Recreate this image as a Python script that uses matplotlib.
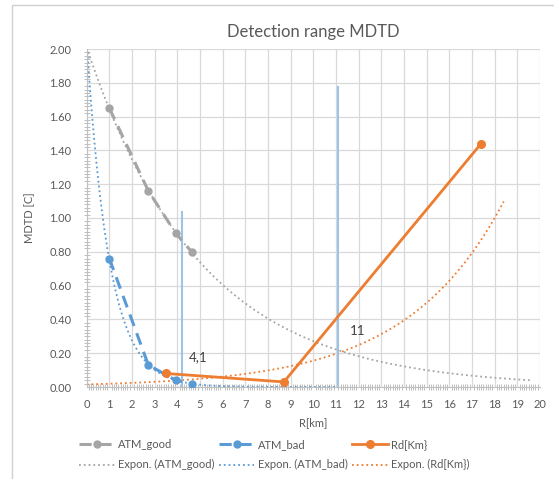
import numpy as np
import matplotlib
matplotlib.use("Agg")
import matplotlib.pyplot as plt
from matplotlib.patches import Rectangle
from matplotlib.ticker import MultipleLocator

plt.rcParams['font.family'] = ['Lato', 'DejaVu Sans']

# ---- data ----
atm_x = [1.0, 2.72, 3.93, 4.63]
atm_good = [1.65, 1.16, 0.91, 0.80]
atm_bad = [0.76, 0.13, 0.04, 0.02]
rd_x = [3.5, 8.7, 17.4]
rd_y = [0.08, 0.03, 1.44]
marker_x = [4.2, 11.1]
marker_top = [1.04, 1.78]
marker_text = ["4,1", "11"]
trend_range_good = (0.0, 19.6)
trend_range_bad = (0.0, 11.0)
trend_range_rd = (0.0, 18.4)

GREY = '#A5A5A5'
BLUE = '#5B9BD5'
ORANGE = '#ED7D31'
TXT = '#595959'

fig = plt.figure(figsize=(5.54, 4.79), dpi=100)
# chart frame
fig.patches.append(Rectangle((12/554, -0.1), 1.2, 1 - 5/479 + 0.1, transform=fig.transFigure,
                             fill=False, edgecolor='#D0D0D0', lw=1.0))
ax = fig.add_axes([86.7/554, 1 - 387/479, (540 - 86.7)/554, (387 - 49)/479])


def expfit(x, y, rng):
    b, a = np.polyfit(x, np.log(y), 1)
    xs = np.linspace(rng[0], rng[1], 200)
    return xs, np.exp(a) * np.exp(b * xs)


# trendlines
xs, ys = expfit(atm_x, atm_good, trend_range_good)
ax.plot(xs, ys, ':', color=GREY, lw=1.3, label='Expon. (ATM_good)', zorder=2)
xs, ys = expfit(atm_x, atm_bad, trend_range_bad)
ax.plot(xs, ys, ':', color=BLUE, lw=1.3, label='Expon. (ATM_bad)', zorder=2)
xs, ys = expfit(rd_x, rd_y, trend_range_rd)
ax.plot(xs, ys, ':', color=ORANGE, lw=1.3, label='Expon. (Rd[Km})', zorder=2)

# series
ax.plot(atm_x, atm_good, '--', color=GREY, lw=2.2, marker='o', ms=5, dashes=(4, 2.5),
        label='ATM_good', zorder=3)
ax.plot(atm_x, atm_bad, '--', color=BLUE, lw=2.2, marker='o', ms=5, dashes=(4, 2.5),
        label='ATM_bad', zorder=3)
ax.plot(rd_x, rd_y, '-', color=ORANGE, lw=2.0, marker='o', ms=5.5, label='Rd[Km}', zorder=4)

# vertical markers
for mx, mt in zip(marker_x, marker_top):
    ax.vlines(mx, 0, mt, color='#9DC3E6', lw=1.5, zorder=2)
ax.text(4.5, 0.178, marker_text[0], fontsize=9.5, color='#404040', va='center', ha='left')
ax.text(11.6, 0.333, marker_text[1], fontsize=9.5, color='#404040', va='center', ha='left')

ax.set_xlim(0, 20)
ax.set_ylim(0, 2.0)
ax.xaxis.set_major_locator(MultipleLocator(1))
ax.xaxis.set_minor_locator(MultipleLocator(0.1))
ax.yaxis.set_minor_locator(MultipleLocator(0.02))
ax.set_yticks(np.arange(0, 2.01, 0.2))
ax.set_yticklabels([f"{v:.2f}" for v in np.arange(0, 2.01, 0.2)])
ax.grid(True, which='major', color='#D9D9D9', lw=0.9)
ax.set_axisbelow(True)
for s in ['top', 'right']:
    ax.spines[s].set_visible(False)
ax.spines['left'].set_color('#BFBFBF')
ax.spines['bottom'].set_color('#BFBFBF')
ax.tick_params(which='major', length=0, labelsize=8, labelcolor=TXT)
ax.tick_params(axis='x', which='major', pad=9)
ax.tick_params(axis='y', which='major', pad=11)
ax.tick_params(which='minor', length=5, direction='inout', color='#BFBFBF', width=0.7)

ax.set_title('Detection range MDTD', fontsize=12, color=TXT, pad=9)
ax.set_xlabel('R[km]', fontsize=8, color=TXT, labelpad=5)
ax.set_ylabel('MDTD [C]', fontsize=8, color=TXT, labelpad=10)

h, l = ax.get_legend_handles_labels()
order = [3, 0, 4, 1, 5, 2]
leg = fig.legend([h[i] for i in order], [l[i] for i in order], loc='upper left',
                 bbox_to_anchor=(79/554, 1 - 439/479), ncol=3, frameon=False, fontsize=8,
                 handlelength=3.2, columnspacing=0.4, handletextpad=0.3, labelspacing=0.85,
                 borderpad=0, borderaxespad=0)
for t in leg.get_texts():
    t.set_color(TXT)

fig.savefig('out.png', dpi=100)
